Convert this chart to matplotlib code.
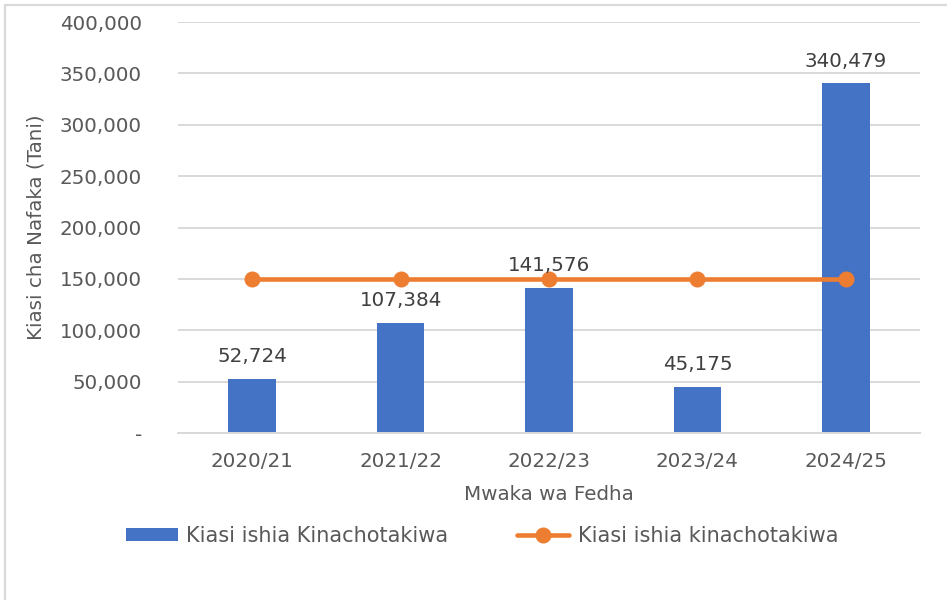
import matplotlib
matplotlib.use("Agg")
import matplotlib.pyplot as plt
from matplotlib.ticker import FuncFormatter
from matplotlib.patches import Rectangle

categories = ["2020/21", "2021/22", "2022/23", "2023/24", "2024/25"]
bar_values = [52724, 107384, 141576, 45175, 340479]
line_values = [150000, 150000, 150000, 150000, 150000]
bar_label = "Kiasi ishia Kinachotakiwa"
line_label = "Kiasi ishia kinachotakiwa"
y_ticks = [0, 50000, 100000, 150000, 200000, 250000, 300000, 350000, 400000]

TEXT = "#595959"
BLUE = "#4472C4"
ORANGE = "#ED7D31"
GRID = "#D9D9D9"
FS = 14.3

plt.rcParams['font.family'] = ['DejaVu Sans']

fig = plt.figure(figsize=(9.47, 6.0), dpi=100)
ax = fig.add_axes([178/947, 1-433/600, (920-178)/947, (433-22)/600])

x = list(range(len(categories)))
bars = ax.bar(x, bar_values, width=0.32, color=BLUE, zorder=2, label=bar_label)
line, = ax.plot(x, line_values, color=ORANGE, lw=3.3, marker='o', markersize=10.5,
                zorder=3, label=line_label, solid_capstyle='round')

for xi, v in zip(x, bar_values):
    ax.annotate(f"{v:,}", (xi, v), xytext=(0, 9), textcoords='offset points',
                ha='center', va='bottom', fontsize=FS, color='#404040', zorder=4)

ax.set_xlim(-0.5, len(categories) - 0.5)
ax.set_ylim(0, 400000)
ax.set_yticks(y_ticks)
ax.yaxis.set_major_formatter(FuncFormatter(lambda v, p: "-" if v == 0 else f"{int(v):,}"))
ax.set_xticks(x)
ax.set_xticklabels(categories)
ax.tick_params(axis='y', length=0, pad=26, labelsize=FS, labelcolor=TEXT)
ax.tick_params(axis='x', length=0, pad=14, labelsize=FS, labelcolor=TEXT)
ax.grid(axis='y', color=GRID, lw=1.4, zorder=0)
ax.set_axisbelow(True)
for s in ['top', 'right', 'left']:
    ax.spines[s].set_visible(False)
ax.spines['bottom'].set_color(GRID)
ax.spines['bottom'].set_linewidth(1.4)

ax.set_ylabel("Kiasi cha Nafaka (Tani)", fontsize=FS, color=TEXT, labelpad=10)
ax.set_xlabel("Mwaka wa Fedha", fontsize=FS, color=TEXT, labelpad=10)

leg = fig.legend([bars, line], [bar_label, line_label],
                 loc='center', bbox_to_anchor=(482/947, 1-536/600), ncol=2,
                 frameon=False, fontsize=15, labelcolor=TEXT,
                 handlelength=2.5, handleheight=0.62, handletextpad=0.4,
                 columnspacing=3.3)

# outer chart border (left and top visible)
fig.patches.append(Rectangle((5/947, -0.1), 1.2, 1 - 5/600 + 0.1,
                             transform=fig.transFigure, fill=False,
                             edgecolor=GRID, lw=1.6))

fig.savefig("out.png", dpi=100)
